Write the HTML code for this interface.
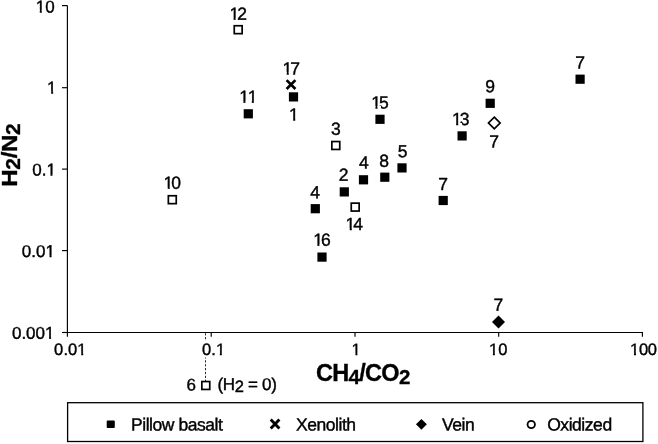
<!DOCTYPE html>
<html><head><meta charset="utf-8"><title>H2/N2 vs CH4/CO2</title>
<style>
html,body{margin:0;padding:0;background:#fff;}
svg{display:block;}
text{font-family:"Liberation Sans",Arial,Helvetica,sans-serif;fill:#000;stroke:#000;stroke-width:0.4px;}
.n{text-anchor:start;font-kerning:none;}
.ax{font-size:23.5px;font-weight:bold;letter-spacing:-0.7px;stroke-width:0.35px;}
.sub{font-size:20.5px;}
.leg{font-size:17.5px;letter-spacing:-0.45px;}
.cov rect{fill:#fff;}
</style></head><body>
<svg width="658" height="444" viewBox="0 0 658 444">
<rect width="658" height="444" fill="#fff"/>

<path d="M205.5 333.2V381" stroke="#111" stroke-width="0.9" stroke-dasharray="2.2 1.67" fill="none"/>
<rect x="200" y="341" width="24" height="16.5" fill="#fff"/>
<g stroke="#000" stroke-width="1.15" fill="none">
<path d="M67.4 5.6V332.5H642.4"/>
<path d="M62 5.6H67.4"/>
<path d="M62 87.7H67.4"/>
<path d="M62 169.1H67.4"/>
<path d="M62 250.6H67.4"/>
<path d="M62 332.5H67.4"/>
<path d="M67.4 332V336.7"/>
<path d="M211.2 332V336.7"/>
<path d="M355.0 332V336.7"/>
<path d="M498.7 332V336.7"/>
<path d="M642.4 332V336.7"/>
</g>
<text class="n" x="35.75" y="12.5" transform="rotate(0.04 35.8 12.5)" style="font-size:17px;letter-spacing:0.0px">10</text>
<text class="n" x="47.12" y="93.4" transform="rotate(0.04 47.1 93.4)" style="font-size:17px;letter-spacing:0.0px">1</text>
<text class="n" x="32.24" y="175.6" transform="rotate(0.04 32.2 175.6)" style="font-size:17px;letter-spacing:0.0px">0.1</text>
<text class="n" x="21.89" y="257.0" transform="rotate(0.04 21.9 257.0)" style="font-size:17px;letter-spacing:0.0px">0.01</text>
<text class="n" x="11.94" y="338.8" transform="rotate(0.04 11.9 338.8)" style="font-size:17px;letter-spacing:0.0px">0.001</text>
<text class="n" x="54.11" y="355.1" transform="rotate(0.04 54.1 355.1)" style="font-size:16.5px;letter-spacing:0.1px">0.01</text>
<text class="n" x="201.99" y="355.1" transform="rotate(0.04 202.0 355.1)" style="font-size:16.5px;letter-spacing:0.1px">0.1</text>
<text class="n" x="351.55" y="355.1" transform="rotate(0.04 351.6 355.1)" style="font-size:16.5px;letter-spacing:0.1px">1</text>
<text class="n" x="489.00" y="355.1" transform="rotate(0.04 489.0 355.1)" style="font-size:16.5px;letter-spacing:0.1px">10</text>
<text class="n" x="630.11" y="355.1" transform="rotate(0.04 630.1 355.1)" style="font-size:16.5px;letter-spacing:-0.3px">100</text>
<text class="ax" style="letter-spacing:-0.3px;font-size:22.3px" transform="translate(16.7,186.7) rotate(-90) scale(1.075,1)">H<tspan style="font-size:19.5px" dy="3.5">2</tspan><tspan dy="-3.5">/N</tspan><tspan style="font-size:19.5px" dy="3.5">2</tspan></text>
<text class="ax" x="316" y="380.9">CH<tspan class="sub" dy="3.3">4</tspan><tspan dy="-3.3">/CO</tspan><tspan class="sub" dy="3.3">2</tspan></text>
<rect x="288.9" y="92.3" width="9.2" height="9.2" fill="#000"/>
<rect x="243.7" y="109.2" width="9.2" height="9.2" fill="#000"/>
<rect x="375.4" y="114.7" width="9.2" height="9.2" fill="#000"/>
<rect x="485.6" y="98.7" width="9.2" height="9.2" fill="#000"/>
<rect x="457.5" y="131.3" width="9.2" height="9.2" fill="#000"/>
<rect x="575.5" y="74.6" width="9.2" height="9.2" fill="#000"/>
<rect x="397.4" y="163.3" width="9.2" height="9.2" fill="#000"/>
<rect x="380.2" y="172.6" width="9.2" height="9.2" fill="#000"/>
<rect x="358.9" y="175.2" width="9.2" height="9.2" fill="#000"/>
<rect x="339.7" y="187.3" width="9.2" height="9.2" fill="#000"/>
<rect x="310.7" y="204.1" width="9.2" height="9.2" fill="#000"/>
<rect x="438.6" y="195.9" width="9.2" height="9.2" fill="#000"/>
<rect x="317.4" y="252.5" width="9.2" height="9.2" fill="#000"/>
<rect x="234.25" y="25.75" width="7.8999999999999995" height="7.8999999999999995" fill="#fff" stroke="#000" stroke-width="1.7"/>
<rect x="331.85" y="141.55" width="7.8999999999999995" height="7.8999999999999995" fill="#fff" stroke="#000" stroke-width="1.7"/>
<rect x="351.25" y="203.15" width="7.8999999999999995" height="7.8999999999999995" fill="#fff" stroke="#000" stroke-width="1.7"/>
<rect x="168.35" y="195.75" width="7.8999999999999995" height="7.8999999999999995" fill="#fff" stroke="#000" stroke-width="1.7"/>
<rect x="201.85" y="381.55" width="7.8999999999999995" height="7.8999999999999995" fill="#fff" stroke="#000" stroke-width="1.7"/>
<path d="M286.6 80.1l8.8 8.9M295.4 80.1l-8.8 8.9" stroke="#000" stroke-width="2.7" fill="none"/>
<path d="M494.3 117.2l5.8 5.8l-5.8 5.8l-5.8-5.8z" fill="#fff" stroke="#000" stroke-width="1.75"/>
<path d="M498.5 315.4l6.5 6.5l-6.5 6.5l-6.5-6.5z" fill="#000"/>
<text class="n" x="229.42" y="19.7" transform="rotate(0.04 229.4 19.7)" style="font-size:17.5px;letter-spacing:-2.0px">12</text>
<text class="n" x="282.57" y="74.4" transform="rotate(0.04 282.6 74.4)" style="font-size:17.5px;letter-spacing:-2.0px">17</text>
<text class="n" x="289.03" y="120.6" transform="rotate(0.04 289.0 120.6)" style="font-size:17.5px;letter-spacing:-2.0px">1</text>
<text class="n" x="239.22" y="102.8" transform="rotate(0.04 239.2 102.8)" style="font-size:17.5px;letter-spacing:-1.3px">11</text>
<text class="n" x="371.29" y="108.4" transform="rotate(0.04 371.3 108.4)" style="font-size:17.5px;letter-spacing:-2.0px">15</text>
<text class="n" x="330.98" y="134.8" transform="rotate(0.04 331.0 134.8)" style="font-size:17.5px;letter-spacing:-2.0px">3</text>
<text class="n" x="485.14" y="92.3" transform="rotate(0.04 485.1 92.3)" style="font-size:17.5px;letter-spacing:-2.0px">9</text>
<text class="n" x="489.33" y="147.6" transform="rotate(0.04 489.3 147.6)" style="font-size:17.5px;letter-spacing:-2.0px">7</text>
<text class="n" x="452.01" y="124.9" transform="rotate(0.04 452.0 124.9)" style="font-size:17.5px;letter-spacing:-2.0px">13</text>
<text class="n" x="575.33" y="68.6" transform="rotate(0.04 575.3 68.6)" style="font-size:17.5px;letter-spacing:-2.0px">7</text>
<text class="n" x="397.65" y="157.2" transform="rotate(0.04 397.7 157.2)" style="font-size:17.5px;letter-spacing:-2.0px">5</text>
<text class="n" x="379.23" y="166.8" transform="rotate(0.04 379.2 166.8)" style="font-size:17.5px;letter-spacing:-2.0px">8</text>
<text class="n" x="359.09" y="168.5" transform="rotate(0.04 359.1 168.5)" style="font-size:17.5px;letter-spacing:-2.0px">4</text>
<text class="n" x="338.83" y="180.7" transform="rotate(0.04 338.8 180.7)" style="font-size:17.5px;letter-spacing:-2.0px">2</text>
<text class="n" x="345.58" y="230" transform="rotate(0.04 345.6 230)" style="font-size:17.5px;letter-spacing:-2.0px">14</text>
<text class="n" x="310.29" y="198.3" transform="rotate(0.04 310.3 198.3)" style="font-size:17.5px;letter-spacing:-2.0px">4</text>
<text class="n" x="163.57" y="188.8" transform="rotate(0.04 163.6 188.8)" style="font-size:17.5px;letter-spacing:-2.0px">10</text>
<text class="n" x="438.13" y="190" transform="rotate(0.04 438.1 190)" style="font-size:17.5px;letter-spacing:-2.0px">7</text>
<text class="n" x="313.21" y="245.7" transform="rotate(0.04 313.2 245.7)" style="font-size:17.5px;letter-spacing:-2.0px">16</text>
<text class="n" x="493.53" y="310.8" transform="rotate(0.04 493.5 310.8)" style="font-size:17.5px;letter-spacing:-2.0px">7</text>
<text class="n" x="186.61" y="390.4" transform="rotate(0.04 186.6 390.4)" style="font-size:17px;letter-spacing:0px">6</text>
<text x="217.4" y="390.0" transform="rotate(0.04 218 390)" style="font-size:17px;letter-spacing:-0.3px">(H<tspan dy="1.9" font-size="16.5">2</tspan><tspan dy="-1.9"> = 0)</tspan></text>
<g class="cov"><rect x="36.00" y="10.00" width="3.75" height="3.00"/><rect x="41.81" y="10.00" width="3.19" height="3.00"/><rect x="48.00" y="91.00" width="3.12" height="3.00"/><rect x="53.18" y="91.00" width="2.82" height="3.00"/><rect x="47.00" y="174.00" width="3.42" height="2.00"/><rect x="52.48" y="174.00" width="3.52" height="2.00"/><rect x="46.00" y="255.00" width="3.52" height="3.00"/><rect x="51.58" y="255.00" width="3.42" height="3.00"/><rect x="46.00" y="337.00" width="3.02" height="3.00"/><rect x="51.08" y="337.00" width="2.92" height="3.00"/><rect x="78.00" y="353.00" width="3.21" height="3.00"/><rect x="83.23" y="353.00" width="2.77" height="3.00"/><rect x="216.00" y="353.00" width="3.82" height="3.00"/><rect x="221.84" y="353.00" width="3.16" height="3.00"/><rect x="352.00" y="353.00" width="3.42" height="3.00"/><rect x="357.44" y="353.00" width="3.56" height="3.00"/><rect x="490.00" y="353.00" width="2.87" height="3.00"/><rect x="494.89" y="353.00" width="3.11" height="3.00"/><rect x="631.00" y="353.00" width="2.98" height="3.00"/><rect x="636.00" y="353.00" width="3.00" height="3.00"/><rect x="230.00" y="18.00" width="3.54" height="2.00"/><rect x="235.64" y="18.00" width="2.14" height="2.00"/><rect x="283.00" y="72.00" width="3.69" height="3.00"/><rect x="288.79" y="72.00" width="3.21" height="3.00"/><rect x="290.00" y="119.00" width="3.16" height="2.00"/><rect x="295.26" y="119.00" width="3.74" height="2.00"/><rect x="240.00" y="101.00" width="3.34" height="3.00"/><rect x="245.45" y="101.00" width="3.55" height="3.00"/><rect x="248.00" y="101.00" width="3.77" height="3.00"/><rect x="253.88" y="101.00" width="3.12" height="3.00"/><rect x="372.00" y="106.00" width="3.41" height="3.00"/><rect x="377.52" y="106.00" width="3.48" height="3.00"/><rect x="453.00" y="123.00" width="3.13" height="3.00"/><rect x="458.24" y="123.00" width="3.76" height="3.00"/><rect x="346.00" y="228.00" width="3.70" height="3.00"/><rect x="351.81" y="228.00" width="3.19" height="3.00"/><rect x="164.00" y="187.00" width="3.69" height="3.00"/><rect x="169.79" y="187.00" width="3.21" height="3.00"/><rect x="314.00" y="244.00" width="3.33" height="2.00"/><rect x="319.44" y="244.00" width="3.56" height="2.00"/></g>
<rect x="67.6" y="402.7" width="575.3" height="38.8" fill="#fff" stroke="#000" stroke-width="1.3"/>
<rect x="106.7" y="420.5" width="8.1" height="7.4" rx="1" fill="#000"/>
<text class="leg" x="131" y="430.5" transform="rotate(0.04 131 430.5)">Pillow basalt</text>
<path d="M270.7 419.5l8.7 9M279.4 419.5l-8.7 9" stroke="#000" stroke-width="2.9" fill="none"/>
<text class="leg" x="296" y="430.5" transform="rotate(0.04 296 430.5)">Xenolith</text>
<path d="M421.4 418.9l5.45 5.45l-5.45 5.45l-5.45-5.45z" fill="#000"/>
<text class="leg" x="442" y="430.5" transform="rotate(0.04 442 430.5)">Vein</text>
<circle cx="531.25" cy="424.5" r="3.7" fill="#fff" stroke="#000" stroke-width="1.8"/>
<text class="leg" x="547.2" y="430.5" transform="rotate(0.04 547.2 430.5)">Oxidized</text>
</svg></body></html>
